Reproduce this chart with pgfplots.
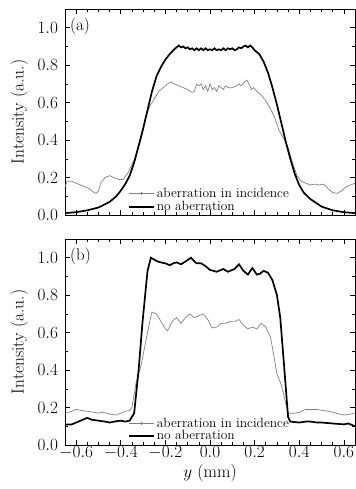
\documentclass[border=0pt]{standalone}
\usepackage{pgfplots}
\pgfplotsset{compat=1.18}
\begin{document}
\begin{tikzpicture}
\useasboundingbox (-65bp,-44bp) rectangle (291bp,445bp);
\pgfplotsset{
  panel/.style={
    width=290bp, height=206bp, scale only axis,
    xmin=-0.65, xmax=0.65, ymin=0, ymax=1.1,
    xtick={-0.6,-0.4,-0.2,0,0.2,0.4,0.6},
    ytick={0,0.2,0.4,0.6,0.8,1.0},
    minor x tick num=3, minor y tick num=1,
    tick align=inside, major tick length=5bp, minor tick length=3bp,
    tick style={black, line width=0.6bp},
    axis line style={line width=0.8bp},
    ticklabel style={font=\fontsize{17}{19}\selectfont},
    xticklabel style={inner sep=1.5bp, /pgf/number format/.cd, fixed, fixed zerofill, precision=1},
    yticklabel style={xshift=-3.5bp, /pgf/number format/.cd, fixed, fixed zerofill, precision=1},
    ylabel={Intensity (a.u.)},
    ylabel style={font=\fontsize{17.5}{19}\selectfont, at={(rel axis cs:-0.158,0.5)}, anchor=center},
    legend cell align=left,
    legend style={draw=none, fill=none, font=\fontsize{13.5}{15}\selectfont,
      anchor=south west, inner sep=0pt, row sep=-1.5bp},
  },
  ab/.style={black!50, line width=0.7bp,
    legend image code/.code={\draw[##1] (0bp,0bp)--(25bp,0bp); \fill[black!50] (12.5bp,0bp) circle (1bp);}},
  na/.style={black, line width=1.7bp,
    legend image code/.code={\draw[##1] (0bp,0bp)--(25bp,0bp);}},
}
% ---------- panel (a)
\begin{axis}[panel, at={(0,230bp)}, xticklabels={},
  legend style={at={(rel axis cs:0.217,0.003)}}]
\addplot[ab] coordinates {
(-0.65,0.15)(-0.64,0.18)(-0.62,0.18)(-0.60,0.17)(-0.58,0.16)(-0.56,0.15)(-0.54,0.14)(-0.52,0.12)(-0.51,0.115)(-0.50,0.13)(-0.49,0.17)(-0.47,0.20)(-0.45,0.21)(-0.43,0.20)(-0.41,0.19)(-0.39,0.19)(-0.37,0.22)(-0.35,0.27)(-0.33,0.32)(-0.31,0.40)(-0.30,0.45)(-0.29,0.52)(-0.27,0.58)(-0.25,0.62)(-0.23,0.66)(-0.21,0.68)(-0.19,0.70)(-0.175,0.71)(-0.16,0.70)(-0.14,0.69)(-0.12,0.68)(-0.10,0.67)(-0.08,0.655)(-0.07,0.66)(-0.06,0.70)(-0.05,0.69)(-0.04,0.70)(-0.03,0.67)(-0.02,0.69)(-0.01,0.66)(0.0,0.70)(0.01,0.67)(0.02,0.68)(0.03,0.66)(0.04,0.69)(0.05,0.68)(0.06,0.67)(0.07,0.69)(0.08,0.68)(0.10,0.68)(0.12,0.69)(0.13,0.70)(0.14,0.69)(0.155,0.71)(0.165,0.72)(0.175,0.70)(0.185,0.67)(0.195,0.68)(0.21,0.66)(0.23,0.64)(0.25,0.61)(0.27,0.57)(0.29,0.52)(0.31,0.45)(0.33,0.41)(0.35,0.36)(0.37,0.28)(0.39,0.21)(0.41,0.18)(0.43,0.17)(0.45,0.16)(0.47,0.165)(0.49,0.16)(0.51,0.165)(0.53,0.14)(0.55,0.12)(0.57,0.115)(0.59,0.13)(0.61,0.15)(0.63,0.16)(0.65,0.17)
};
\addlegendentry{aberration in incidence}
\addplot[na] coordinates {
(-0.65,0.01)(-0.6,0.015)(-0.55,0.025)(-0.5,0.04)(-0.45,0.07)(-0.42,0.10)(-0.40,0.13)(-0.38,0.165)(-0.36,0.21)(-0.34,0.28)(-0.32,0.37)(-0.30,0.46)(-0.28,0.56)(-0.26,0.66)(-0.24,0.74)(-0.22,0.79)(-0.20,0.83)(-0.18,0.86)(-0.16,0.885)(-0.15,0.895)(-0.14,0.905)(-0.13,0.895)(-0.12,0.90)(-0.11,0.89)(-0.10,0.895)(-0.09,0.885)(-0.08,0.89)(-0.07,0.88)(-0.06,0.89)(-0.05,0.88)(-0.04,0.89)(-0.03,0.88)(-0.02,0.89)(-0.01,0.88)(0.0,0.885)(0.01,0.88)(0.02,0.89)(0.03,0.88)(0.04,0.885)(0.05,0.88)(0.06,0.89)(0.07,0.88)(0.08,0.89)(0.09,0.885)(0.10,0.89)(0.11,0.88)(0.12,0.885)(0.13,0.895)(0.14,0.89)(0.15,0.90)(0.16,0.905)(0.17,0.895)(0.18,0.905)(0.19,0.895)(0.20,0.88)(0.22,0.86)(0.24,0.82)(0.26,0.76)(0.28,0.68)(0.30,0.59)(0.32,0.49)(0.34,0.39)(0.36,0.30)(0.38,0.22)(0.40,0.16)(0.42,0.12)(0.45,0.085)(0.50,0.045)(0.55,0.025)(0.60,0.015)(0.65,0.01)
};
\addlegendentry{no aberration}
\node[anchor=north west, inner sep=0pt, font=\fontsize{17}{19}\selectfont] at (rel axis cs:0.017,0.956) {(a)};
\end{axis}
% ---------- panel (b)
\begin{axis}[panel, at={(0,0)},
  xlabel={$y$ (mm)},
  xlabel style={font=\fontsize{17.5}{19}\selectfont, at={(rel axis cs:0.5,-0.136)}, anchor=center},
  legend style={at={(rel axis cs:0.217,0.008)}, row sep=-2.5bp}]
\addplot[ab] coordinates {
(-0.65,0.17)(-0.62,0.18)(-0.60,0.19)(-0.58,0.185)(-0.55,0.18)(-0.52,0.175)(-0.50,0.17)(-0.48,0.175)(-0.45,0.165)(-0.42,0.16)(-0.40,0.17)(-0.38,0.18)(-0.36,0.185)(-0.35,0.20)(-0.34,0.27)(-0.33,0.34)(-0.32,0.38)(-0.31,0.42)(-0.30,0.48)(-0.29,0.54)(-0.28,0.60)(-0.27,0.66)(-0.26,0.71)(-0.25,0.705)(-0.24,0.70)(-0.22,0.66)(-0.20,0.62)(-0.19,0.61)(-0.17,0.66)(-0.15,0.68)(-0.13,0.65)(-0.11,0.68)(-0.09,0.70)(-0.07,0.68)(-0.05,0.69)(-0.03,0.70)(-0.01,0.67)(0.01,0.625)(0.03,0.63)(0.05,0.65)(0.07,0.65)(0.09,0.66)(0.11,0.66)(0.13,0.67)(0.15,0.64)(0.17,0.62)(0.19,0.63)(0.21,0.62)(0.23,0.65)(0.25,0.63)(0.27,0.58)(0.28,0.52)(0.29,0.45)(0.30,0.38)(0.32,0.32)(0.34,0.22)(0.35,0.17)(0.38,0.17)(0.40,0.175)(0.43,0.19)(0.45,0.19)(0.48,0.19)(0.50,0.185)(0.53,0.18)(0.55,0.175)(0.58,0.165)(0.60,0.16)(0.63,0.165)(0.65,0.17)
};
\addlegendentry{aberration in incidence}
\addplot[na] coordinates {
(-0.65,0.11)(-0.62,0.11)(-0.60,0.12)(-0.57,0.135)(-0.55,0.145)(-0.53,0.135)(-0.50,0.13)(-0.47,0.125)(-0.45,0.12)(-0.43,0.125)(-0.40,0.13)(-0.38,0.125)(-0.36,0.13)(-0.35,0.15)(-0.34,0.17)(-0.32,0.40)(-0.303,0.65)(-0.28,0.93)(-0.265,1.0)(-0.25,0.99)(-0.235,0.98)(-0.22,0.975)(-0.20,0.97)(-0.18,0.96)(-0.165,0.97)(-0.15,0.975)(-0.13,0.965)(-0.11,0.98)(-0.085,1.0)(-0.07,0.98)(-0.06,0.97)(-0.04,0.97)(-0.02,0.955)(0.0,0.935)(0.015,0.93)(0.03,0.925)(0.06,0.94)(0.08,0.925)(0.11,0.94)(0.13,0.965)(0.15,0.93)(0.17,0.91)(0.19,0.945)(0.21,0.91)(0.225,0.915)(0.24,0.93)(0.26,0.92)(0.28,0.88)(0.30,0.80)(0.315,0.68)(0.335,0.38)(0.35,0.15)(0.36,0.125)(0.40,0.12)(0.43,0.125)(0.45,0.125)(0.48,0.12)(0.50,0.12)(0.55,0.115)(0.60,0.11)(0.62,0.115)(0.65,0.10)
};
\addlegendentry{no aberration}
\node[anchor=north west, inner sep=0pt, font=\fontsize{17}{19}\selectfont] at (rel axis cs:0.017,0.956) {(b)};
\end{axis}
\end{tikzpicture}
\end{document}
